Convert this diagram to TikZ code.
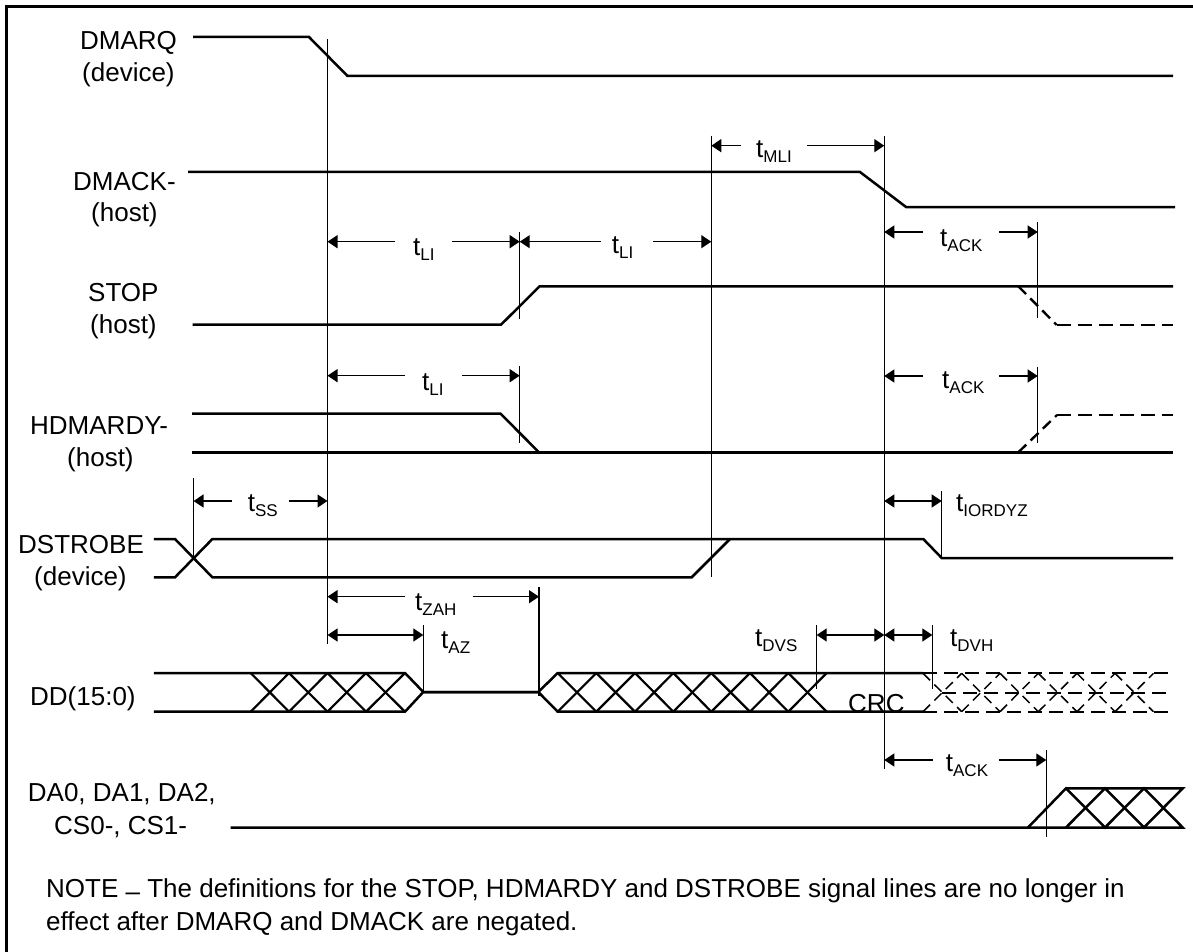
\documentclass[tikz,border=0pt]{standalone}
\usepackage{fontspec}
\setmainfont{Liberation Sans}
\usetikzlibrary{arrows.meta}
\tikzset{
  x=1pt,y=-1pt,
  sig/.style={line width=2.5pt,line join=miter},
  sigd/.style={line width=2.2pt,dash pattern=on 14pt off 7pt},
  sigslant/.style={line width=2.4pt,dash pattern=on 11pt off 6pt},
  hatch/.style={line width=2.2pt},
  hatchd/.style={line width=1.5pt,dash pattern=on 10pt off 6pt},
  guide/.style={line width=1.3pt},
  dimline/.style={line width=1.3pt},
  tip/.style={-{Triangle[length=10pt,width=13pt]}},
  lbl/.style={anchor=base west,inner sep=0pt,font=\fontsize{26}{26}\selectfont},
}
\newcommand{\tsb}[1]{t\raisebox{-5pt}{\fontsize{17}{17}\selectfont #1}}
\newcommand{\darrow}[5]{%
  \draw[dimline,tip] (#4,#3) -- (#1,#3);
  \draw[dimline,tip] (#5,#3) -- (#2,#3);}
\begin{document}
\begin{tikzpicture}
\useasboundingbox (0,0) rectangle (1193,952);
\fill[white] (0,0) rectangle (1193,952);
% frame
\draw[line width=3pt] (6.5,952) -- (6.5,6.5) -- (1193,6.5);
% guides
\draw[guide] (327.5,39.5) -- (327.5,644);
\draw[guide] (711.3,135.7) -- (711.3,577);
\draw[guide] (884.3,135.7) -- (884.3,769);
\draw[guide] (519.7,232) -- (519.7,319);
\draw[guide] (519.7,366) -- (519.7,443);
\draw[guide] (1037.7,222) -- (1037.7,318);
\draw[guide] (1037.7,366.7) -- (1037.7,443);
\draw[guide] (193.6,478) -- (193.6,558);
\draw[guide] (941.7,491) -- (941.7,558);
\draw[guide] (539,586.7) -- (539,696);
\draw[guide] (423.3,625) -- (423.3,692);
\draw[guide] (816.7,625) -- (816.7,689);
\draw[guide] (932.3,625) -- (932.3,689);
\draw[guide] (1046.3,750) -- (1046.3,836.7);
% signals
\draw[sig] (193,37) -- (309,37) -- (347.5,76) -- (1173,76);
\draw[sig] (188,172) -- (860,172) -- (906,207) -- (1175,207);
\draw[sig] (192.5,324.7) -- (501,324.7) -- (539.6,286.3) -- (1173,286.3);
\draw[sigslant] (1018.3,286.3) -- (1056.7,325);
\draw[sigd] (1056.7,325) -- (1173,325);
\draw[sig] (192,413.7) -- (500.5,413.7) -- (539,452.3);
\draw[sig] (192,452.3) -- (1173,452.3);
\draw[sigslant] (1018.3,452.3) -- (1057,415);
\draw[sigd] (1057,415) -- (1173,415);
\draw[sig] (153.8,539) -- (175,539) -- (212.4,577.3) -- (691.7,577.3) -- (730,539);
\draw[sig] (153.8,577.3) -- (175,577.3) -- (212.4,539) -- (923.3,539) -- (941.7,558) -- (1173,558);
% DD
\draw[sig] (153.8,673) -- (405,673) -- (423.3,692) -- (538.3,692) -- (557.7,673) -- (923,673);
\draw[sig] (153.8,711.7) -- (405,711.7) -- (423.3,692) -- (538.3,692) -- (557.7,711.7) -- (923,711.7);
\foreach \a/\b in {250.7/289,289/327.5,327.5/366,366/405,557.7/596.3,596.3/635,635/673.3,673.3/711.3,711.3/750,750/788.3,788.3/826.7}{
  \draw[hatch] (\a,673) -- (\b,711.7);
  \draw[hatch] (\a,711.7) -- (\b,673);
}
\foreach \a/\b in {923/961.7,961.7/1000,1000/1038.3,1038.3/1077,1077/1115,1115/1153.5}{
  \draw[hatchd] (\a,673.3) -- (\b,711.7);
  \draw[hatchd] (\a,711.7) -- (\b,673.3);
}
\draw[sigd] (923,673.3) -- (1170,673.3);
\draw[sigd] (942.3,692.7) -- (1167,692.7);
\draw[sigd] (923,711.7) -- (1170,711.7);
% DA
\draw[sig] (230.7,827.5) -- (1182.7,827.5) -- (1144,788.3) -- (1105,827.5) -- (1066,788.3) -- (1028,827.5);
\draw[sig] (1066,788.3) -- (1182.7,788.3) -- (1144,827.5) -- (1105,788.3) -- (1066,827.5);
% dimension arrows
\darrow{327.5}{519.7}{241.7}{395}{452}
\darrow{519.7}{711.3}{241.7}{600.7}{653.3}
\darrow{327.5}{519.7}{375.7}{405}{462}
\darrow{711.3}{884.3}{145.7}{741}{807}
\darrow{884.3}{1037.7}{232}{923}{999}
\darrow{884.3}{1037.7}{376}{923}{999}
\darrow{193.6}{327.5}{501}{231.5}{289}
\darrow{327.5}{539}{596.7}{405}{472.6}
\darrow{327.5}{423.3}{635}{375}{375}
\darrow{816.7}{884.3}{635}{850}{850}
\darrow{884.3}{932.3}{635}{908}{908}
\darrow{884.3}{941.7}{501}{913}{913}
\darrow{884.3}{1046.3}{760}{932.7}{999}
% labels
\node[lbl] (l1) at (80,50) {DMARQ};
\node[lbl] (l2) at (82,81.7) {(device)};
\node[lbl] (l3) at (73,190) {DMACK-};
\node[lbl] (l4) at (91,221.5) {(host)};
\node[lbl] (l5) at (88,301.7) {STOP};
\node[lbl] (l6) at (90,333) {(host)};
\node[lbl] (l7) at (30,434) {HDMARDY-};
\node[lbl] (l8) at (67,466) {(host)};
\node[lbl] (l9) at (18,553) {DSTROBE};
\node[lbl] (l10) at (34,585.7) {(device)};
\node[lbl] (l11) at (30,705.7) {DD(15:0)};
\node[lbl] (l12) at (27.7,801.7) {DA0, DA1, DA2,};
\node[lbl] (l13) at (54,834) {CS0-, CS1-};
\node[lbl] (crc) at (848,712) {CRC};
% timing labels
\node[lbl] (t1) at (413,255) {\tsb{LI}};
\node[lbl] (t2) at (611.7,253) {\tsb{LI}};
\node[lbl] (t3) at (422,390) {\tsb{LI}};
\node[lbl] (t4) at (756,157.7) {\tsb{MLI}};
\node[lbl] (t5) at (940,246) {\tsb{ACK}};
\node[lbl] (t6) at (942,388) {\tsb{ACK}};
\node[lbl] (t7) at (247.6,511.7) {\tsb{SS}};
\node[lbl] (t8) at (415,610) {\tsb{ZAH}};
\node[lbl] (t9) at (441,648) {\tsb{AZ}};
\node[lbl] (t10) at (755,646.7) {\tsb{DVS}};
\node[lbl] (t11) at (950,646) {\tsb{DVH}};
\node[lbl] (t12) at (945.7,771.7) {\tsb{ACK}};
\node[lbl] (t13) at (956,511.7) {\tsb{IORDYZ}};
% note
\node[lbl] (n1) at (46,897) {NOTE \raisebox{-3.5pt}{–} The definitions for the STOP, HDMARDY and DSTROBE signal lines are no longer in};
\node[lbl] (n2) at (46,930.7) {effect after DMARQ and DMACK are negated.};
\end{tikzpicture}
\end{document}
